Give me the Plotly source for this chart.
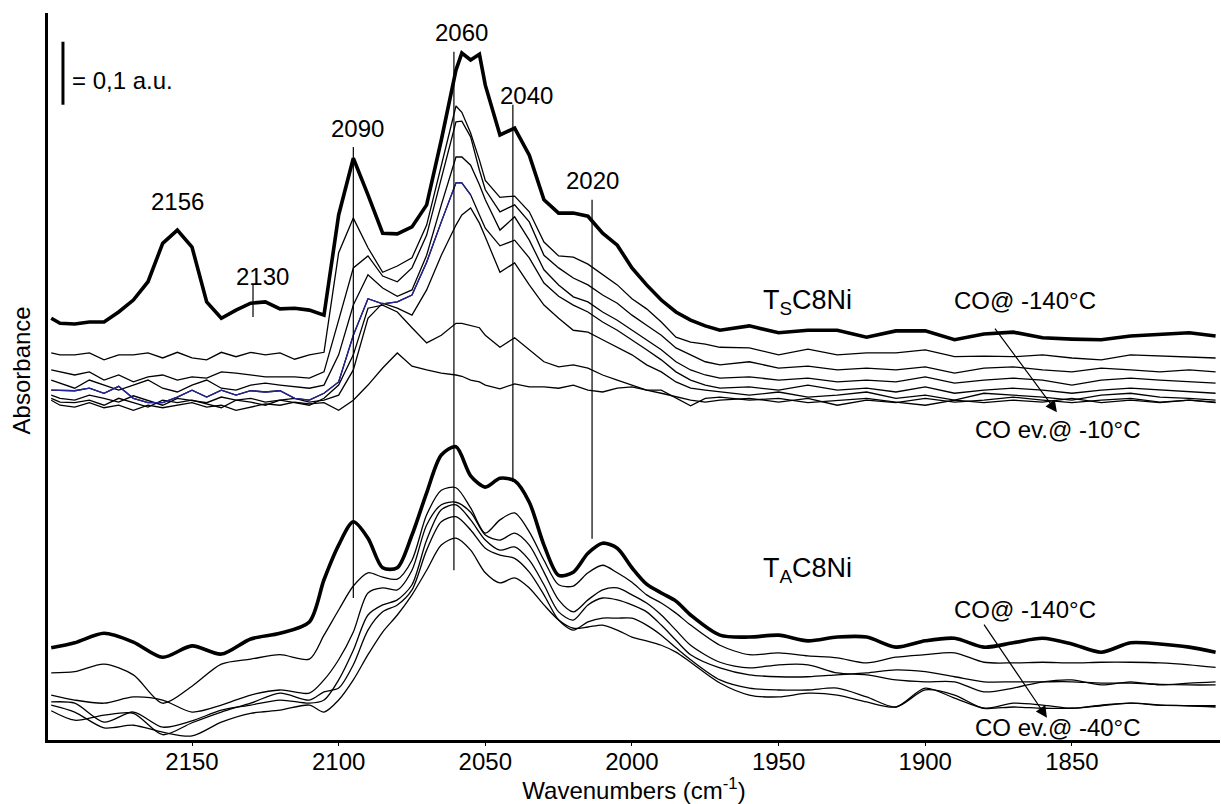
import plotly.graph_objects as go

# ---------------- data (absorbance, a.u.; offsets as in the stacked figure) -------------
W_TOP = [2198, 2195, 2190, 2185, 2180, 2175, 2170, 2165, 2160, 2155, 2150, 2145, 2140, 2135,
         2130, 2125, 2120, 2115, 2110, 2105,
         2100, 2095, 2090, 2085, 2080, 2075, 2070, 2065, 2060, 2058, 2055, 2052, 2050, 2045, 2040, 2035,
         2030, 2025, 2020, 2015, 2010, 2005, 2000, 1995, 1990, 1985, 1980, 1975, 1970,
         1960, 1950, 1940, 1930, 1920, 1910, 1900, 1890, 1880, 1870, 1860, 1850, 1840,
         1830, 1820, 1810, 1801]

# TsC8Ni: CO @ -140 C (thick) ... CO evacuated @ -10 C
TS_140 = [0.671, 0.663, 0.662, 0.665, 0.665, 0.681, 0.700, 0.729, 0.790, 0.811, 0.784, 0.697, 0.671, 0.684,
          0.695, 0.697, 0.686, 0.687, 0.684, 0.676,
          0.835, 0.925, 0.867, 0.806, 0.805, 0.816, 0.851, 0.954, 1.065, 1.092, 1.081, 1.090, 1.041, 0.962,
          0.973, 0.930,
          0.859, 0.838, 0.838, 0.833, 0.806, 0.787, 0.751, 0.724, 0.700, 0.681, 0.668, 0.659, 0.652,
          0.659, 0.648, 0.652, 0.652, 0.641, 0.651, 0.651, 0.637, 0.646, 0.649, 0.640, 0.638, 0.637,
          0.643, 0.646, 0.648, 0.643]
TS_2 = [0.616, 0.613, 0.613, 0.616, 0.605, 0.613, 0.613, 0.616, 0.608, 0.617, 0.608, 0.605, 0.617, 0.610,
        0.617, 0.613, 0.616, 0.606, 0.613, 0.617,
        0.775, 0.830, 0.783, 0.744, 0.754, 0.767, 0.819, 0.914, 1.008, 0.998, 0.965, 0.922, 0.890, 0.863,
        0.865, 0.840,
        0.792, 0.770, 0.768, 0.757, 0.741, 0.724, 0.702, 0.686, 0.665, 0.641, 0.633, 0.630, 0.625,
        0.624, 0.613, 0.622, 0.613, 0.616, 0.616, 0.621, 0.610, 0.611, 0.610, 0.613, 0.608, 0.605,
        0.613, 0.611, 0.610, 0.608]
TS_3 = [0.589, 0.586, 0.581, 0.586, 0.573, 0.581, 0.570, 0.578, 0.581, 0.573, 0.578, 0.576, 0.586, 0.584,
        0.581, 0.578, 0.578, 0.578, 0.576, 0.586,
        0.668, 0.751, 0.770, 0.738, 0.729, 0.751, 0.803, 0.894, 0.983, 0.984, 0.959, 0.906, 0.875, 0.840,
        0.851, 0.824,
        0.771, 0.751, 0.735, 0.724, 0.708, 0.695, 0.676, 0.660, 0.644, 0.624, 0.613, 0.602, 0.597,
        0.602, 0.592, 0.595, 0.589, 0.592, 0.589, 0.594, 0.584, 0.592, 0.594, 0.589, 0.586, 0.592,
        0.589, 0.586, 0.589, 0.586]
TS_4 = [0.573, 0.568, 0.560, 0.573, 0.565, 0.557, 0.565, 0.573, 0.560, 0.554, 0.565, 0.573, 0.560, 0.557,
        0.565, 0.568, 0.565, 0.562, 0.560, 0.565,
        0.613, 0.692, 0.740, 0.719, 0.706, 0.716, 0.771, 0.851, 0.927, 0.927, 0.914, 0.883, 0.859, 0.811,
        0.832, 0.795,
        0.748, 0.724, 0.705, 0.697, 0.681, 0.668, 0.652, 0.637, 0.621, 0.602, 0.589, 0.581, 0.576,
        0.578, 0.573, 0.576, 0.570, 0.573, 0.570, 0.578, 0.568, 0.573, 0.576, 0.573, 0.565, 0.573,
        0.576, 0.573, 0.570, 0.568]
TS_5 = [0.557, 0.557, 0.556, 0.560, 0.552, 0.563, 0.544, 0.537, 0.537, 0.546, 0.557, 0.546, 0.557, 0.549,
        0.556, 0.554, 0.556, 0.544, 0.541, 0.552,
        0.570, 0.644, 0.702, 0.694, 0.697, 0.708, 0.760, 0.824, 0.886, 0.886, 0.867, 0.835, 0.814, 0.786,
        0.795, 0.767,
        0.727, 0.706, 0.692, 0.681, 0.665, 0.652, 0.637, 0.621, 0.605, 0.586, 0.573, 0.565, 0.560,
        0.562, 0.557, 0.565, 0.557, 0.560, 0.554, 0.562, 0.552, 0.557, 0.560, 0.557, 0.552, 0.557,
        0.560, 0.557, 0.554, 0.552]
TS_6 = [0.549, 0.544, 0.541, 0.549, 0.544, 0.538, 0.548, 0.541, 0.533, 0.544, 0.541, 0.537, 0.546, 0.541,
        0.544, 0.538, 0.541, 0.544, 0.538, 0.541,
        0.549, 0.589, 0.671, 0.695, 0.687, 0.676, 0.716, 0.771, 0.819, 0.835, 0.846, 0.822, 0.800, 0.744,
        0.759, 0.724,
        0.692, 0.671, 0.652, 0.649, 0.637, 0.625, 0.613, 0.597, 0.586, 0.570, 0.560, 0.557, 0.554,
        0.549, 0.554, 0.546, 0.549, 0.554, 0.544, 0.549, 0.541, 0.552, 0.549, 0.546, 0.541, 0.549,
        0.552, 0.546, 0.544, 0.541]
TS_7 = [0.544, 0.538, 0.537, 0.541, 0.533, 0.544, 0.537, 0.530, 0.541, 0.537, 0.541, 0.535, 0.529, 0.541,
        0.538, 0.533, 0.541, 0.537, 0.533, 0.544,
        0.565, 0.613, 0.687, 0.692, 0.681, 0.656, 0.632, 0.644, 0.663, 0.663, 0.660, 0.656, 0.644, 0.625,
        0.640, 0.621,
        0.602, 0.594, 0.597, 0.592, 0.581, 0.573, 0.565, 0.557, 0.552, 0.546, 0.541, 0.538, 0.541,
        0.544, 0.538, 0.544, 0.533, 0.541, 0.537, 0.544, 0.538, 0.541, 0.546, 0.541, 0.537, 0.541,
        0.544, 0.538, 0.541, 0.537]
TS_10 = [0.541, 0.533, 0.530, 0.537, 0.529, 0.533, 0.525, 0.533, 0.529, 0.533, 0.537, 0.530, 0.533, 0.525,
         0.530, 0.535, 0.533, 0.538, 0.535, 0.537,
         0.525, 0.541, 0.565, 0.592, 0.616, 0.595, 0.589, 0.584, 0.581, 0.579, 0.573, 0.570, 0.565, 0.559,
         0.567, 0.562,
         0.562, 0.560, 0.565, 0.557, 0.554, 0.560, 0.562, 0.557, 0.557, 0.544, 0.532, 0.544, 0.546,
         0.541, 0.544, 0.537, 0.541, 0.544, 0.538, 0.533, 0.541, 0.537, 0.541, 0.538, 0.544, 0.537,
         0.541, 0.537, 0.541, 0.538]

W_BOT = [2198, 2190, 2180, 2170, 2160, 2150, 2140, 2130, 2120, 2110,
         2105, 2100, 2095, 2090, 2085, 2080, 2075, 2070, 2065, 2060, 2055, 2050, 2045, 2040,
         2035, 2030, 2025, 2020, 2015, 2010, 2005, 2000, 1995, 1990, 1985, 1980,
         1970, 1960, 1950, 1940, 1930, 1920, 1910, 1900, 1890, 1880, 1870, 1860, 1850, 1840,
         1830, 1820, 1810, 1801]

# TaC8Ni: CO @ -140 C (thick) ... CO evacuated @ -40 C
TA_140 = [0.148, 0.156, 0.171, 0.157, 0.133, 0.151, 0.138, 0.162, 0.171, 0.189,
          0.256, 0.311, 0.348, 0.322, 0.275, 0.275, 0.327, 0.394, 0.454, 0.467, 0.421, 0.403, 0.417, 0.413,
          0.379, 0.311, 0.263, 0.268, 0.298, 0.314, 0.306, 0.275, 0.249, 0.235, 0.222, 0.200,
          0.168, 0.165, 0.168, 0.159, 0.165, 0.165, 0.149, 0.159, 0.163, 0.149, 0.156, 0.163, 0.154, 0.141,
          0.156, 0.154, 0.149, 0.141]
TA_2 = [0.108, 0.110, 0.122, 0.105, 0.060, 0.087, 0.122, 0.130, 0.137, 0.130,
        0.168, 0.208, 0.246, 0.267, 0.260, 0.257, 0.287, 0.359, 0.398, 0.402, 0.370, 0.330, 0.351, 0.362,
        0.332, 0.287, 0.248, 0.246, 0.267, 0.279, 0.267, 0.252, 0.232, 0.219, 0.203, 0.184,
        0.152, 0.137, 0.140, 0.135, 0.132, 0.124, 0.133, 0.137, 0.140, 0.125, 0.124, 0.125, 0.124, 0.125,
        0.125, 0.124, 0.121, 0.117]
TA_3 = [0.073, 0.065, 0.060, 0.070, 0.065, 0.046, 0.057, 0.073, 0.081, 0.076,
        0.097, 0.129, 0.173, 0.235, 0.243, 0.240, 0.271, 0.343, 0.375, 0.379, 0.363, 0.327, 0.319, 0.330,
        0.311, 0.268, 0.224, 0.205, 0.224, 0.240, 0.243, 0.232, 0.219, 0.200, 0.176, 0.152,
        0.125, 0.116, 0.121, 0.121, 0.108, 0.105, 0.097, 0.094, 0.094, 0.078, 0.084, 0.094, 0.097, 0.089,
        0.094, 0.089, 0.092, 0.094]
TA_4 = [0.062, 0.060, 0.030, 0.046, 0.022, 0.032, 0.049, 0.057, 0.065, 0.060,
        0.065, 0.097, 0.144, 0.200, 0.216, 0.224, 0.248, 0.319, 0.367, 0.375, 0.351, 0.319, 0.303, 0.308,
        0.287, 0.248, 0.205, 0.192, 0.216, 0.227, 0.224, 0.216, 0.205, 0.184, 0.160, 0.137,
        0.116, 0.105, 0.102, 0.102, 0.105, 0.108, 0.113, 0.110, 0.102, 0.094, 0.094, 0.094, 0.094, 0.092,
        0.092, 0.090, 0.089, 0.089]
TA_5 = [0.048, 0.033, 0.041, 0.044, 0.010, 0.029, 0.046, 0.060, 0.076, 0.065,
        0.078, 0.084, 0.121, 0.176, 0.205, 0.216, 0.240, 0.303, 0.348, 0.356, 0.335, 0.306, 0.295, 0.290,
        0.268, 0.232, 0.192, 0.176, 0.189, 0.195, 0.195, 0.195, 0.184, 0.168, 0.148, 0.129,
        0.097, 0.084, 0.081, 0.081, 0.084, 0.070, 0.054, 0.081, 0.073, 0.052, 0.060, 0.057, 0.052, 0.057,
        0.060, 0.057, 0.056, 0.056]
TA_40 = [0.057, 0.046, 0.021, 0.025, 0.014, 0.008, 0.030, 0.044, 0.049, 0.057,
         0.046, 0.065, 0.097, 0.137, 0.173, 0.200, 0.232, 0.271, 0.311, 0.322, 0.303, 0.267, 0.251, 0.259,
         0.243, 0.216, 0.192, 0.179, 0.181, 0.184, 0.176, 0.165, 0.159, 0.152, 0.141, 0.125,
         0.092, 0.073, 0.070, 0.076, 0.073, 0.062, 0.054, 0.084, 0.068, 0.052, 0.054, 0.052, 0.052, 0.056,
         0.060, 0.057, 0.056, 0.054]

TICKS = [2150, 2100, 2050, 2000, 1950, 1900, 1850]
PEAK_LABELS = ["2156", "2130", "2090", "2060", "2040", "2020"]
PEAK_LABEL_X = [2155.1, 2126.1, 2093.7, 2058.0, 2036.1, 2013.6]
PEAK_LABEL_Y = [0.856, 0.737, 0.973, 1.125, 1.024, 0.890]
MARK_X = [2129.2, 2095.0, 2060.7, 2040.6, 2013.6]
MARK_Y0 = [0.673, 0.227, 0.271, 0.411, 0.321]
MARK_Y1 = [0.724, 0.943, 1.094, 1.010, 0.859]

FONT = "Arial, 'Liberation Sans', Helvetica, sans-serif"
BLACK = "#000000"
BLUE = "#23239a"

fig = go.Figure()

# lower stack (TaC8Ni), smooth spectra
for ys in [TA_40, TA_5, TA_4, TA_3, TA_2]:
    fig.add_trace(go.Scatter(x=W_BOT, y=ys, mode="lines",
                             line=dict(color=BLACK, width=1.3, shape="spline", smoothing=0.8),
                             hoverinfo="skip", showlegend=False))
fig.add_trace(go.Scatter(x=W_BOT, y=TA_140, mode="lines",
                         line=dict(color=BLACK, width=3.6, shape="spline", smoothing=0.8),
                         hoverinfo="skip", showlegend=False))

# upper stack (TsC8Ni)
for ys in [TS_10, TS_7, TS_6, TS_5, TS_4, TS_3, TS_2]:
    fig.add_trace(go.Scatter(x=W_TOP, y=ys, mode="lines",
                             line=dict(color=BLACK, width=1.3),
                             hoverinfo="skip", showlegend=False))
# the blue-coloured part of one spectrum
blue_x = [w for w in W_TOP if w >= 2055]
blue_y = TS_5[:len(blue_x)]
fig.add_trace(go.Scatter(x=blue_x, y=blue_y, mode="lines",
                         line=dict(color=BLUE, width=1.3),
                         hoverinfo="skip", showlegend=False))
fig.add_trace(go.Scatter(x=W_TOP, y=TS_140, mode="lines",
                         line=dict(color=BLACK, width=3.6),
                         hoverinfo="skip", showlegend=False))

shapes = []
for x, y0, y1 in zip(MARK_X, MARK_Y0, MARK_Y1):
    shapes.append(dict(type="line", xref="x", yref="y", x0=x, x1=x, y0=y0, y1=y1,
                       line=dict(color=BLACK, width=1.2)))
# scale bar = 0.1 a.u.
shapes.append(dict(type="line", xref="x", yref="y", x0=2194.0, x1=2194.0, y0=1.010, y1=1.110,
                   line=dict(color=BLACK, width=3)))

annotations = []
for t, x, y in zip(PEAK_LABELS, PEAK_LABEL_X, PEAK_LABEL_Y):
    annotations.append(dict(x=x, y=y, xref="x", yref="y", text=t, showarrow=False,
                            font=dict(family=FONT, size=24, color=BLACK)))
annotations.append(dict(x=2191.6, y=1.049, xref="x", yref="y", text="= 0,1 a.u.", showarrow=False,
                        xanchor="left", font=dict(family=FONT, size=24, color=BLACK)))
annotations.append(dict(x=1940.0, y=0.697, xref="x", yref="y", text="T<sub>S</sub>C8Ni",
                        showarrow=False, font=dict(family=FONT, size=27, color=BLACK)))
annotations.append(dict(x=1940.0, y=0.272, xref="x", yref="y", text="T<sub>A</sub>C8Ni",
                        showarrow=False, font=dict(family=FONT, size=27, color=BLACK)))
annotations.append(dict(x=1866.0, y=0.700, xref="x", yref="y", text="CO@ -140°C",
                        showarrow=False, font=dict(family=FONT, size=24, color=BLACK)))
annotations.append(dict(x=1854.7, y=0.494, xref="x", yref="y", text="CO ev.@ -10°C",
                        showarrow=False, font=dict(family=FONT, size=24, color=BLACK)))
annotations.append(dict(x=1866.0, y=0.208, xref="x", yref="y", text="CO@ -140°C",
                        showarrow=False, font=dict(family=FONT, size=24, color=BLACK)))
annotations.append(dict(x=1854.7, y=0.022, xref="x", yref="y", text="CO ev.@ -40°C",
                        showarrow=False, font=dict(family=FONT, size=24, color=BLACK)))
# y-axis title
annotations.append(dict(x=-0.0218, y=0.509, xref="paper", yref="paper", text="Absorbance",
                        textangle=-90, showarrow=False, xanchor="center", yanchor="middle",
                        font=dict(family=FONT, size=24, color=BLACK)))
# arrows
annotations.append(dict(x=1855.1, y=0.522, ax=1876.6, ay=0.657, xref="x", yref="y",
                        axref="x", ayref="y", text="", showarrow=True, arrowhead=2,
                        arrowsize=1.9, arrowwidth=1.2, arrowcolor=BLACK))
annotations.append(dict(x=1858.5, y=0.037, ax=1880.3, ay=0.187, xref="x", yref="y",
                        axref="x", ayref="y", text="", showarrow=True, arrowhead=2,
                        arrowsize=1.9, arrowwidth=1.2, arrowcolor=BLACK))

fig.update_layout(
    width=1221, height=804,
    margin=dict(l=48, r=1, t=13, b=64, autoexpand=False),
    paper_bgcolor="white", plot_bgcolor="white",
    font=dict(family=FONT, size=24, color=BLACK),
    shapes=shapes, annotations=annotations,
    showlegend=False,
)
fig.update_xaxes(range=[2199.1, 1799.5], showline=True, linewidth=3, linecolor=BLACK,
                 automargin=False,
                 ticks="outside", ticklen=3, tickwidth=1, tickcolor=BLACK,
                 ticklabelstandoff=-5,
                 tickvals=TICKS, ticktext=[str(t) for t in TICKS],
                 tickfont=dict(family=FONT, size=24, color=BLACK),
                 showgrid=False, zeroline=False,
                 title=dict(text="Wavenumbers (cm<sup>-1</sup>)",
                            font=dict(family=FONT, size=24, color=BLACK)))
fig.update_yaxes(range=[0.0016, 1.1556], showline=True, linewidth=3, linecolor=BLACK,
                 automargin=False,
                 showticklabels=False, ticks="", showgrid=False, zeroline=False)

fig.write_html("out.html",
               config={"displayModeBar": False},
               post_script="document.body.style.margin='0px';document.body.style.overflow='hidden';")
